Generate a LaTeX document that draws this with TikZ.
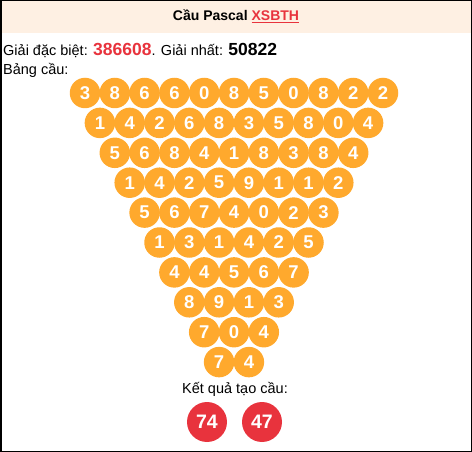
\documentclass[tikz,border=0pt]{standalone}
\usepackage{fontspec}
\setmainfont{Liberation Sans}
\usepackage{xcolor}
\usepackage{tikz}

\definecolor{headbg}{HTML}{FEF0E3}
\definecolor{ballorange}{HTML}{FFA92D}
\definecolor{ballred}{HTML}{E8333D}

\tikzset{
  ball/.style={circle,fill=ballorange,text=white,inner sep=0pt,
    minimum size=30.5pt,font=\fontsize{18.5}{18.5}\selectfont\bfseries},
  result/.style={circle,fill=ballred,text=white,inner sep=0pt,
    minimum size=40pt,font=\fontsize{19.5}{19.5}\selectfont\bfseries},
  plain/.style={inner sep=0pt,font=\fontsize{14.5}{14.5}\selectfont}
}

\begin{document}
\begin{tikzpicture}[x=1pt,y=-1pt]
  \useasboundingbox (0,0) rectangle (472,452);
  % header band
  \fill[headbg] (0,0) rectangle (472,33);
  \draw[line width=1.5pt] (0.75,0.75) rectangle (471.25,451.25);

  \node[plain,anchor=base,font=\fontsize{14}{14}\selectfont\bfseries] (title) at (236,21)
    {Cầu Pascal \textcolor{ballred}{\underline{XSBTH}}};

  \node[plain,anchor=base west] (prize) at (3,56)
    {Giải đặc biệt: {\fontsize{17.5}{17.5}\selectfont\bfseries\textcolor{ballred}{386608}}.
     Giải nhất: {\fontsize{17.5}{17.5}\selectfont\bfseries 50822}};
  \node[plain,anchor=base west] (board) at (3,75) {Bảng cầu:};

  % the triangle
  \foreach \row [count=\r from 0] in {
      {3,8,6,6,0,8,5,0,8,2,2},
      {1,4,2,6,8,3,5,8,0,4},
      {5,6,8,4,1,8,3,8,4},
      {1,4,2,5,9,1,1,2},
      {5,6,7,4,0,2,3},
      {1,3,1,4,2,5},
      {4,4,5,6,7},
      {8,9,1,3},
      {7,0,4},
      {7,4}}
    \foreach \d [count=\i from 0] in \row
      \node[ball] (c-\r-\i) at (85+14.9*\r+29.8*\i, 93+29.9*\r) {\d};

  \node[plain,anchor=base] (res) at (235,393) {Kết quả tạo cầu:};
  \node[result] (r1) at (207,422) {74};
  \node[result] (r2) at (262,422) {47};
\end{tikzpicture}
\end{document}
